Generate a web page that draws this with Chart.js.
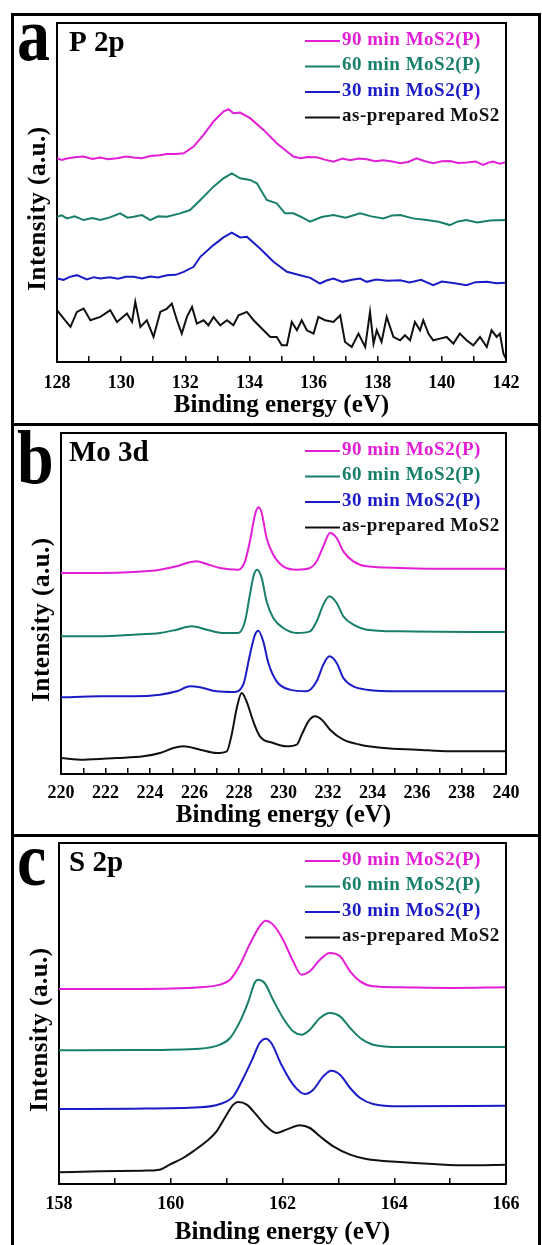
<!DOCTYPE html>
<html>
<head>
<meta charset="utf-8">
<script src="https://cdn.jsdelivr.net/npm/chart.js@4.4.0/dist/chart.umd.min.js"></script>
<style>
  html, body { margin: 0; padding: 0; background: #fff; }
  body { width: 542px; height: 1245px; position: relative; overflow: hidden; }
  .frame { position: absolute; left: 11px; top: 13px; width: 524px; height: 1300px; border: 3px solid #000; border-bottom: none; }
  .sep { position: absolute; left: 11px; width: 530px; height: 3px; background: #000; }
  .panel { position: absolute; left: 14px; width: 524px; }
</style>
</head>
<body>
<div class="frame"></div>
<div class="sep" style="top:423px"></div>
<div class="sep" style="top:834px"></div>
<div class="panel" style="top:16px;height:407px"><canvas id="chartP"></canvas></div>
<div class="panel" style="top:426px;height:408px"><canvas id="chartMo"></canvas></div>
<div class="panel" style="top:837px;height:408px"><canvas id="chartS"></canvas></div>
<script>
// series labels / colours (same order in every panel)
const seriesLabels = ['90 min MoS2(P)', '60 min MoS2(P)', '30 min MoS2(P)', 'as-prepared MoS2'];
const seriesColors = ['#e21fd6', '#18806a', '#1c1cc6', '#111111'];

// --- P 2p : [binding energy (eV), intensity (a.u., offset)] ---
const p2p90 = [[128.00,61.0],[128.15,60.5],[128.31,60.9],[128.55,61.3],[128.83,61.5],[129.10,60.8],[129.35,61.2],
  [129.60,60.7],[129.87,61.0],[130.15,61.5],[130.39,61.2],[130.65,61.0],[130.91,61.7],[131.20,61.9],[131.43,62.3],
  [131.70,62.3],[131.95,62.5],[132.26,64.5],[132.57,68.0],[132.88,72.0],[133.19,75.0],[133.35,75.7],[133.50,74.5],
  [133.71,74.7],[134.02,73.0],[134.44,69.5],[134.85,65.5],[135.17,63.0],[135.37,61.5],[135.60,61.0],[135.80,61.4],
  [136.10,61.3],[136.35,60.6],[136.62,60.0],[136.90,60.9],[137.14,60.4],[137.40,60.9],[137.66,60.7],[137.92,60.1],
  [138.18,60.4],[138.45,60.0],[138.70,59.5],[138.95,59.9],[139.21,61.0],[139.45,60.2],[139.73,59.5],[140.00,60.1],
  [140.25,60.2],[140.50,59.6],[140.77,59.7],[141.05,60.0],[141.29,59.0],[141.45,59.7],[141.60,60.0],[141.80,59.4],
  [142.00,59.8]];
const p2p60 = [[128.00,43.5],[128.15,43.9],[128.31,43.0],[128.55,43.6],[128.83,42.5],[129.10,43.1],[129.35,42.5],
  [129.65,43.3],[129.97,44.5],[130.20,43.2],[130.39,43.5],[130.65,44.0],[130.91,42.5],[131.15,43.6],[131.43,43.5],
  [131.84,44.5],[132.15,45.5],[132.47,48.5],[132.88,52.5],[133.19,55.0],[133.45,56.5],[133.71,55.0],[134.02,54.5],
  [134.23,53.5],[134.54,48.5],[134.85,47.5],[135.11,44.5],[135.37,44.5],[135.60,43.5],[135.89,42.0],[136.25,43.4],
  [136.62,44.0],[137.00,43.2],[137.45,44.5],[137.80,43.6],[138.18,43.0],[138.45,43.9],[138.70,44.0],[139.10,43.0],
  [139.53,42.5],[139.90,42.0],[140.25,41.0],[140.50,42.1],[140.77,42.5],[141.10,41.8],[141.50,42.4],[142.00,42.5]];
const p2p30 = [[128.00,25.0],[128.20,24.6],[128.40,25.5],[128.62,26.0],[128.93,24.7],[129.15,25.4],[129.35,25.0],
  [129.65,25.4],[129.90,24.9],[130.15,25.5],[130.39,25.5],[130.65,25.0],[130.91,25.6],[131.15,25.3],[131.43,26.0],
  [131.70,26.1],[131.95,27.0],[132.26,28.5],[132.47,31.5],[132.88,35.0],[133.19,37.3],[133.45,38.7],[133.71,37.3],
  [133.92,37.5],[134.33,34.0],[134.75,30.0],[135.17,27.0],[135.58,26.0],[135.90,25.2],[136.20,23.5],[136.40,24.4],
  [136.62,25.0],[136.90,24.0],[137.20,24.6],[137.45,25.0],[137.66,24.0],[137.95,24.7],[138.30,24.3],[138.70,24.5],
  [139.00,23.8],[139.35,24.6],[139.73,23.0],[140.00,24.1],[140.40,23.6],[140.77,23.0],[141.05,23.9],[141.40,24.0],
  [141.70,23.6],[142.00,23.7]];
const p2p0 = [[128.00,15.5],[128.21,13.0],[128.42,10.5],[128.62,15.0],[128.83,16.0],[129.04,12.5],[129.35,13.5],
  [129.66,15.5],[129.87,12.0],[130.18,14.5],[130.34,12.0],[130.44,18.0],[130.60,10.5],[130.80,12.5],[131.01,7.5],
  [131.22,15.0],[131.43,16.0],[131.58,17.5],[131.74,12.5],[131.89,8.5],[132.05,13.5],[132.21,16.5],[132.36,11.5],
  [132.57,12.5],[132.72,11.0],[132.88,13.5],[133.09,11.0],[133.30,12.5],[133.50,11.0],[133.66,14.0],[133.92,15.0],
  [134.13,12.5],[134.44,9.5],[134.65,7.5],[134.85,7.5],[135.01,5.0],[135.17,5.0],[135.32,12.0],[135.48,9.5],
  [135.63,12.5],[135.79,9.5],[136.00,8.5],[136.15,13.5],[136.36,12.5],[136.62,12.0],[136.83,14.0],[136.98,6.0],
  [137.19,4.5],[137.40,8.5],[137.61,4.5],[137.76,15.0],[137.87,5.5],[137.97,9.5],[138.12,6.0],[138.28,13.5],
  [138.49,7.5],[138.70,6.5],[138.85,8.0],[139.01,6.5],[139.16,12.0],[139.32,9.5],[139.42,12.5],[139.58,8.5],
  [139.73,6.5],[139.94,7.0],[140.15,7.5],[140.36,5.5],[140.56,8.5],[140.77,6.5],[140.98,5.0],[141.19,7.5],
  [141.40,4.5],[141.55,9.5],[141.71,7.5],[141.81,8.5],[141.92,2.5],[142.00,1.0]];

// --- Mo 3d ---
const mo90 = [[220.00,60.3],[221.75,60.3],[223.25,60.6],[224.45,61.3],[225.20,62.3],[225.65,63.3],[226.10,63.8],
  [226.55,63.0],[227.15,61.8],[227.97,61.3],[228.27,63.8],[228.49,69.8],[228.72,77.8],[228.87,80.0],[229.02,78.3],
  [229.24,70.8],[229.54,65.8],[229.99,62.3],[230.59,61.3],[231.19,61.8],[231.49,63.8],[231.79,68.3],[232.09,72.3],
  [232.39,70.8],[232.69,66.8],[233.14,63.8],[233.74,62.3],[235.24,61.8],[236.73,61.6],[240.00,61.6]];
const mo60 = [[220.00,41.3],[221.75,41.3],[223.25,41.8],[224.45,42.3],[225.20,43.3],[225.87,44.3],[226.55,43.3],
  [227.30,42.3],[227.97,42.3],[228.27,45.8],[228.49,53.8],[228.67,59.8],[228.82,61.3],[229.02,58.8],[229.24,51.8],
  [229.54,46.8],[229.99,43.8],[230.59,42.3],[231.19,42.8],[231.49,45.8],[231.79,50.8],[232.06,53.3],[232.39,51.3],
  [232.69,47.3],[233.14,44.8],[233.74,43.3],[235.24,42.8],[240.00,42.6]];
const mo30 = [[220.00,23.0],[221.75,23.3],[223.25,23.3],[224.45,23.8],[225.20,24.8],[225.80,26.3],[226.25,26.0],
  [227.00,24.8],[227.75,24.6],[228.19,26.8],[228.49,35.8],[228.72,41.8],[228.87,43.0],[229.09,39.8],[229.32,33.3],
  [229.69,27.8],[230.29,25.3],[231.04,24.8],[231.49,27.8],[231.79,32.8],[232.06,35.3],[232.39,33.3],[232.69,28.8],
  [233.14,26.3],[233.74,25.3],[235.24,24.8],[240.00,24.8]];
const mo0 = [[220.00,4.8],[221.00,4.3],[222.50,4.8],[223.70,5.3],[224.45,6.3],[225.05,7.8],[225.50,8.3],[226.25,7.3],
  [227.00,6.3],[227.45,6.8],[227.67,11.8],[227.90,19.8],[228.12,24.3],[228.34,21.8],[228.64,15.8],[228.94,11.3],
  [229.54,9.3],[230.14,8.3],[230.59,8.8],[230.82,11.8],[231.12,15.8],[231.42,17.3],[231.72,16.3],[232.09,13.3],
  [232.69,10.3],[233.44,8.8],[234.49,7.8],[235.99,7.3],[237.48,6.8],[238.98,6.8],[240.00,6.8]];

// --- S 2p ---
const s90 = [[158.00,58.5],[159.33,58.5],[160.52,59.0],[160.88,59.8],[161.06,61.3],[161.24,65.8],[161.41,71.8],
  [161.59,77.3],[161.70,79.0],[161.83,77.8],[162.01,73.3],[162.19,66.8],[162.34,62.8],[162.49,63.8],[162.67,67.3],
  [162.85,69.3],[163.03,68.3],[163.21,63.8],[163.39,60.8],[163.62,59.3],[164.10,59.0],[165.00,58.8],[166.00,59.0]];
const s60 = [[158.00,40.1],[159.33,40.2],[160.52,40.6],[160.88,41.8],[161.06,43.8],[161.24,48.8],[161.39,54.8],
  [161.50,60.3],[161.56,61.3],[161.68,60.3],[161.83,55.3],[162.01,49.8],[162.19,45.8],[162.34,44.8],[162.49,46.3],
  [162.67,49.8],[162.85,51.3],[163.03,50.3],[163.21,46.8],[163.39,43.8],[163.62,41.8],[164.10,41.1],[166.00,41.1]];
const s30 = [[158.00,22.5],[159.33,22.6],[160.52,23.0],[160.88,24.0],[161.12,26.3],[161.30,31.8],[161.47,37.8],
  [161.59,42.3],[161.70,43.6],[161.80,42.3],[161.98,35.8],[162.19,29.8],[162.40,27.0],[162.55,28.3],[162.73,32.3],
  [162.87,34.0],[163.03,32.8],[163.21,28.8],[163.39,25.8],[163.62,24.0],[164.10,23.3],[166.00,23.5]];
const s0 = [[158.00,3.5],[158.73,3.8],[159.50,4.0],[159.80,4.3],[159.98,5.8],[160.22,7.8],[160.40,9.8],[160.64,12.8],
  [160.82,15.8],[161.00,20.8],[161.12,23.8],[161.21,24.6],[161.36,23.8],[161.53,20.8],[161.71,17.3],[161.89,15.3],
  [162.07,16.3],[162.31,17.6],[162.49,16.8],[162.67,14.3],[162.91,11.3],[163.21,8.8],[163.50,7.5],[164.10,6.6],
  [164.70,6.0],[165.30,5.6],[166.00,5.8]];

const FONT = '"Liberation Serif", "Times New Roman", serif';

// draws frame top/right, panel letter, panel title, y title and the in-plot legend
const panelDecor = {
    id: 'panelDecor',
    afterDraw: function(chart, args, o) {
        const ctx = chart.ctx, a = chart.chartArea;
        ctx.save();
        ctx.strokeStyle = '#000';
        ctx.lineWidth = 2;
        ctx.beginPath();
        ctx.moveTo(a.left, a.top);
        ctx.lineTo(a.right, a.top);
        ctx.lineTo(a.right, a.bottom);
        ctx.stroke();

        ctx.fillStyle = '#000';
        ctx.textAlign = 'left';
        ctx.textBaseline = 'alphabetic';
        ctx.save();
        ctx.translate(3, a.top + o.letterDy);
        ctx.scale(1, 1.16);
        ctx.font = 'bold 66px ' + FONT;
        ctx.fillText(o.letter, 0, 0);
        ctx.restore();

        ctx.font = 'bold 29px ' + FONT;
        ctx.fillText(o.title, 55, a.top + 28);

        ctx.save();
        ctx.translate(a.left - 18, (a.top + a.bottom) / 2 + 16);
        ctx.rotate(-Math.PI / 2);
        ctx.font = 'bold 25px ' + FONT;
        ctx.letterSpacing = '0.5px';
        ctx.textAlign = 'center';
        ctx.textBaseline = 'middle';
        ctx.fillText('Intensity (a.u.)', 0, 0);
        ctx.restore();

        ctx.font = 'bold 19px ' + FONT;
        ctx.letterSpacing = '0.5px';
        ctx.textBaseline = 'middle';
        chart.data.datasets.forEach((ds, i) => {
            const y = a.top + 17 + i * 25.5;
            ctx.strokeStyle = ds.borderColor;
            ctx.lineWidth = 2;
            ctx.beginPath();
            ctx.moveTo(a.right - 201, y + 1);
            ctx.lineTo(a.right - 166, y + 1);
            ctx.stroke();
            ctx.fillStyle = ds.borderColor;
            ctx.fillText(ds.label, a.right - 164, y);
        });
        ctx.restore();
    }
};

function makePanel(id, p) {
    const [min, max] = p.range;
    new Chart(document.getElementById(id), {
        type: 'line',
        data: {
            datasets: p.series.map((s, i) => ({
                label: seriesLabels[i],
                data: s.map(([x, y]) => ({x: x, y: y})),
                borderColor: seriesColors[i],
                borderWidth: 2,
                pointRadius: 0,
                tension: 0,
                cubicInterpolationMode: p.smooth ? 'monotone' : 'default'
            }))
        },
        options: {
            responsive: true, maintainAspectRatio: false, animation: false,
            layout: { padding: { top: p.padTop, right: 32, left: 0, bottom: 0 } },
            plugins: { legend: { display: false }, tooltip: { enabled: false },
                panelDecor: { letter: p.letter, title: p.title, letterDy: p.letterDy } },
            scales: {
                x: {
                    type: 'linear', min: min, max: max,
                    ticks: {
                        stepSize: 1, autoSkip: false, maxRotation: 0, padding: p.tickPad,
                        color: '#000', font: { family: FONT, size: 18, weight: 'bold' },
                        callback: v => ((v - min) % 2 === 0 ? String(v) : '')
                    },
                    grid: { display: true, drawOnChartArea: false, drawTicks: true, tickLength: -6, color: '#000', lineWidth: 1.5 },
                    border: { display: true, color: '#000', width: 2 },
                    title: { display: true, text: 'Binding energy (eV)', color: '#000',
                        font: { family: FONT, size: 25, weight: 'bold' }, padding: { top: 0, bottom: p.titlePad } },
                    afterFit: s => { s.height = p.xH; }
                },
                y: {
                    min: 0, max: p.yMax,
                    ticks: { display: false },
                    grid: { display: false },
                    border: { display: true, color: '#000', width: 2 },
                    afterFit: s => { s.width = p.yW; }
                }
            }
        },
        plugins: [panelDecor]
    });
}

makePanel('chartP', { letter: 'a', title: 'P 2p', range: [128, 142], series: [p2p90, p2p60, p2p30, p2p0],
    smooth: false, yMax: 101.5, padTop: 7, yW: 43, xH: 61, tickPad: 17, titlePad: 2, letterDy: 37 });
makePanel('chartMo', { letter: 'b', title: 'Mo 3d', range: [220, 240], series: [mo90, mo60, mo30, mo0],
    smooth: true, yMax: 102.3, padTop: 7, yW: 47, xH: 60, tickPad: 15, titlePad: 3, letterDy: 50 });
makePanel('chartS', { letter: 'c', title: 'S 2p', range: [158, 166], series: [s90, s60, s30, s0],
    smooth: true, yMax: 102.3, padTop: 6, yW: 45, xH: 61, tickPad: 16, titlePad: -3, letterDy: 42 });
</script>
</body>
</html>
